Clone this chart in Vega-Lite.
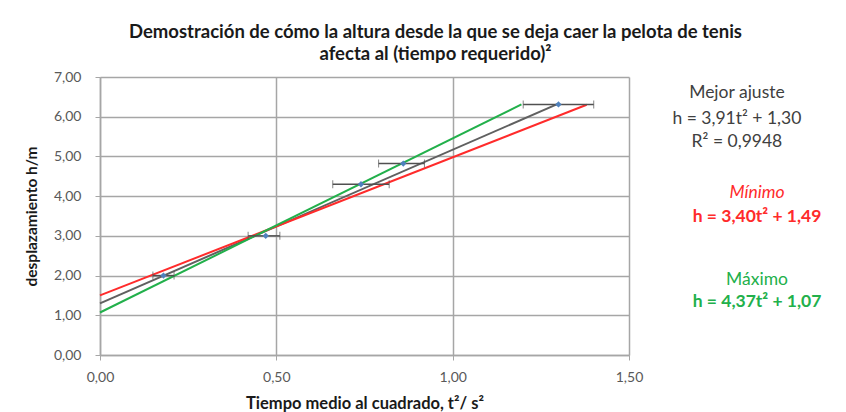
{
  "$schema": "https://vega.github.io/schema/vega-lite/v6.json",
  "width": 529,
  "height": 278,
  "autosize": {"type": "none"},
  "padding": {"left": 100, "top": 77, "right": 217, "bottom": 57},
  "background": "white",
  "config": {"font": "Lato", "view": {"stroke": null}},
  "title": {
    "text": ["Demostración de cómo  la altura desde la que se deja caer la pelota de tenis", "afecta al (tiempo requerido)²"],
    "fontSize": 18.5,
    "fontWeight": "bold",
    "color": "#1a1a1a",
    "anchor": "middle",
    "frame": "group",
    "dx": 71,
    "offset": 7,
    "lineHeight": 22
  },
  "datasets": {
    "points": [
      {"x": 0.18, "y": 2.0, "lo": 0.15, "hi": 0.21},
      {"x": 0.47, "y": 3.0, "lo": 0.42, "hi": 0.51},
      {"x": 0.74, "y": 4.3, "lo": 0.66, "hi": 0.82},
      {"x": 0.86, "y": 4.82, "lo": 0.79, "hi": 0.92},
      {"x": 1.30, "y": 6.31, "lo": 1.20, "hi": 1.40}
    ],
    "lines": [
      {"fit": "best", "x": 0, "y": 1.30},
      {"fit": "best", "x": 1.30, "y": 6.33},
      {"fit": "min", "x": 0, "y": 1.50},
      {"fit": "min", "x": 1.38, "y": 6.30},
      {"fit": "max", "x": 0, "y": 1.07},
      {"fit": "max", "x": 1.195, "y": 6.31}
    ],
    "notes": [
      {"fit": "best", "kind": "head", "label": "Mejor ajuste", "x": 1.806, "y": 6.60},
      {"fit": "best", "kind": "eq", "label": "h = 3,91t² + 1,30", "x": 1.806, "y": 5.94},
      {"fit": "best", "kind": "eq", "label": "R² = 0,9948", "x": 1.806, "y": 5.37},
      {"fit": "min", "kind": "head", "label": "Mínimo", "x": 1.863, "y": 4.08},
      {"fit": "min", "kind": "eq", "label": "h = 3,40t² + 1,49", "x": 1.863, "y": 3.48},
      {"fit": "max", "kind": "head", "label": "Máximo", "x": 1.863, "y": 1.89},
      {"fit": "max", "kind": "eq", "label": "h = 4,37t² + 1,07", "x": 1.863, "y": 1.34}
    ]
  },
  "encoding": {
    "x": {
      "type": "quantitative",
      "scale": {"domain": [0, 1.5], "nice": false},
      "axis": {
        "values": [0, 0.5, 1, 1.5],
        "labelExpr": "replace(format(datum.value, '.2f'), '.', ',')",
        "labelFlush": false,
        "title": "Tiempo medio al cuadrado,  t²/ s²",
        "titleFontSize": 16.5,
        "titleFontWeight": "bold",
        "titleColor": "#1a1a1a",
        "titlePadding": 11,
        "labelFontSize": 14,
        "labelColor": "#595959",
        "labelPadding": 10,
        "gridColor": "#a6a6a6",
        "gridWidth": 1.5,
        "domainColor": "#a6a6a6",
        "domainWidth": 1.5,
        "tickColor": "#a6a6a6",
        "tickSize": 5
      }
    },
    "y": {
      "type": "quantitative",
      "scale": {"domain": [0, 7], "nice": false},
      "axis": {
        "values": [0, 1, 2, 3, 4, 5, 6, 7],
        "labelExpr": "replace(format(datum.value, '.2f'), '.', ',')",
        "title": "desplazamiento  h/m",
        "titleFontSize": 15.5,
        "titleFontWeight": "bold",
        "titleColor": "#1a1a1a",
        "titlePadding": 14,
        "labelFontSize": 14,
        "labelColor": "#595959",
        "labelPadding": 14,
        "gridColor": "#a6a6a6",
        "gridWidth": 1.5,
        "domainColor": "#a6a6a6",
        "domainWidth": 1.5,
        "tickColor": "#a6a6a6",
        "tickSize": 5
      }
    }
  },
  "layer": [
    {
      "data": {"name": "lines"},
      "mark": {"type": "line", "strokeWidth": 2},
      "encoding": {
        "x": {"field": "x", "type": "quantitative"},
        "y": {"field": "y", "type": "quantitative"},
        "color": {
          "field": "fit",
          "type": "nominal",
          "scale": {"domain": ["best", "min", "max"], "range": ["#606060", "#ff2b2b", "#22b04b"]},
          "legend": null
        }
      }
    },
    {
      "data": {"name": "points"},
      "mark": {"type": "errorbar", "ticks": {"size": 8, "color": "#505050"}, "rule": {"color": "#505050", "strokeWidth": 1.5}},
      "encoding": {
        "x": {"field": "lo", "type": "quantitative"},
        "x2": {"field": "hi"},
        "y": {"field": "y", "type": "quantitative"}
      }
    },
    {
      "data": {"name": "points"},
      "mark": {"type": "point", "shape": "diamond", "filled": true, "size": 40, "color": "#4f81bd", "opacity": 1},
      "encoding": {
        "x": {"field": "x", "type": "quantitative"},
        "y": {"field": "y", "type": "quantitative"}
      }
    },
    {
      "data": {"name": "notes"},
      "transform": [{"filter": "datum.fit == 'best'"}],
      "mark": {"type": "text", "fontSize": 17.5, "color": "#404040", "align": "center", "baseline": "middle"},
      "encoding": {
        "x": {"field": "x", "type": "quantitative"},
        "y": {"field": "y", "type": "quantitative"},
        "text": {"field": "label"}
      }
    },
    {
      "data": {"name": "notes"},
      "transform": [{"filter": "datum.fit == 'min' && datum.kind == 'head'"}],
      "mark": {"type": "text", "fontSize": 17.5, "fontStyle": "italic", "color": "#ff2b2b", "align": "center", "baseline": "middle"},
      "encoding": {
        "x": {"field": "x", "type": "quantitative"},
        "y": {"field": "y", "type": "quantitative"},
        "text": {"field": "label"}
      }
    },
    {
      "data": {"name": "notes"},
      "transform": [{"filter": "datum.fit == 'max' && datum.kind == 'head'"}],
      "mark": {"type": "text", "fontSize": 17.5, "color": "#22b04b", "align": "center", "baseline": "middle"},
      "encoding": {
        "x": {"field": "x", "type": "quantitative"},
        "y": {"field": "y", "type": "quantitative"},
        "text": {"field": "label"}
      }
    },
    {
      "data": {"name": "notes"},
      "transform": [{"filter": "datum.fit != 'best' && datum.kind == 'eq'"}],
      "mark": {"type": "text", "fontSize": 17.5, "fontWeight": "bold", "align": "center", "baseline": "middle"},
      "encoding": {
        "x": {"field": "x", "type": "quantitative"},
        "y": {"field": "y", "type": "quantitative"},
        "text": {"field": "label"},
        "color": {
          "field": "fit",
          "type": "nominal",
          "scale": {"domain": ["best", "min", "max"], "range": ["#606060", "#ff2b2b", "#22b04b"]},
          "legend": null
        }
      }
    }
  ]
}
